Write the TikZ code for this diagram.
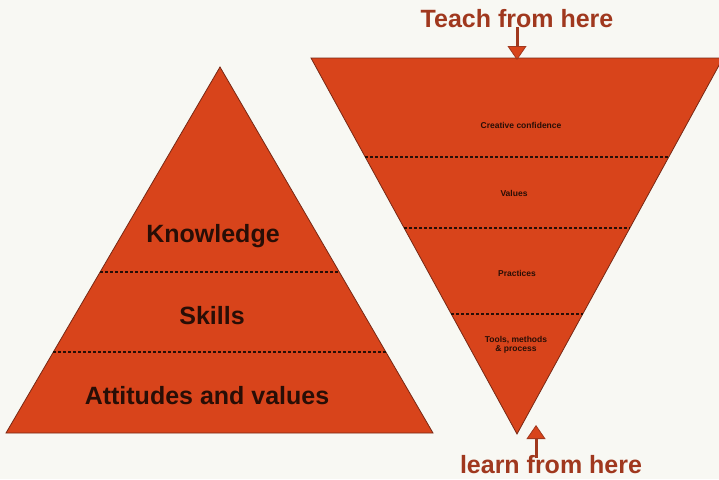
\documentclass[tikz,border=0pt]{standalone}
\usepackage{fontspec}
\setmainfont{Liberation Sans}
\usepackage{tikz}
\usetikzlibrary{arrows.meta, calc, positioning}

\definecolor{paper}{RGB}{248,248,243}
\definecolor{triorange}{RGB}{216,68,27}
\definecolor{triedge}{RGB}{120,40,20}
\definecolor{cuered}{RGB}{160,56,30}
\definecolor{inkdark}{RGB}{40,14,6}

\begin{document}
\begin{tikzpicture}[x=1pt, y=-1pt,
    tri/.style={fill=triorange, draw=triedge, line width=0.8pt, line join=miter},
    layer/.style={draw=inkdark, line width=1.3pt, dash pattern=on 2.5pt off 2.5pt},
    bigtext/.style={anchor=base, inner sep=0pt, text=inkdark, font=\fontsize{25}{28}\selectfont\bfseries},
    smalltext/.style={inner sep=0pt, text=inkdark, align=center, font=\fontsize{8.5}{9}\selectfont\bfseries},
    cuetext/.style={anchor=base, inner sep=0pt, text=cuered, font=\fontsize{25}{28}\selectfont\bfseries},
    cue/.style={draw=cuered, line width=3pt, -{Triangle[width=19pt, length=14pt, fill=triorange, line width=0.8pt]}}]
    % Background
    \fill[paper] (0,0) rectangle (719,479);
    \useasboundingbox (0,0) rectangle (719,479);
    \clip (0,0) rectangle (719,479);

    % Left pyramid
    \coordinate (lt) at (220,67);
    \coordinate (lbl) at (6,433);
    \coordinate (lbr) at (433,433);
    \draw[tri] (lt) -- (lbr) -- (lbl) -- cycle;
    \draw[layer] ($(lt)!0.56!(lbl)$) -- ($(lt)!0.56!(lbr)$);
    \draw[layer] ($(lt)!0.779!(lbl)$) -- ($(lt)!0.779!(lbr)$);
    \node[bigtext] (knowledge) at (213,242) {Knowledge};
    \node[bigtext] (skills) at (212,324) {Skills};
    \node[bigtext] (attitudes) at (207,404) {Attitudes and values};

    % Right pyramid (upside down)
    \coordinate (rb) at (517,434);
    \coordinate (rtl) at (311,58);
    \coordinate (rtr) at (723,58);
    \draw[tri] (rb) -- (rtl) -- (rtr) -- cycle;
    \draw[layer] ($(rb)!0.737!(rtl)$) -- ($(rb)!0.737!(rtr)$);
    \draw[layer] ($(rb)!0.548!(rtl)$) -- ($(rb)!0.548!(rtr)$);
    \draw[layer] ($(rb)!0.319!(rtl)$) -- ($(rb)!0.319!(rtr)$);
    \node[smalltext] (confidence) at (521,125) {Creative confidence};
    \node[smalltext] (values) at (514,193) {Values};
    \node[smalltext] (practices) at (517,273) {Practices};
    \node[smalltext] (tools) at (516,345) {Tools, methods\\\& process};

    % Teach / learn cues
    \node[cuetext] (teach) at (517,27) {Teach from here};
    \coordinate (teachtip) at (517,60);
    \draw[cue] (teach.base) -- (teachtip);
    \node[cuetext] (learn) at (551,473) {learn from here};
    \coordinate (learntip) at (536,425);
    \coordinate (learntail) at (536,458);
    \draw[cue] (learntail) -- (learntip);
\end{tikzpicture}
\end{document}
